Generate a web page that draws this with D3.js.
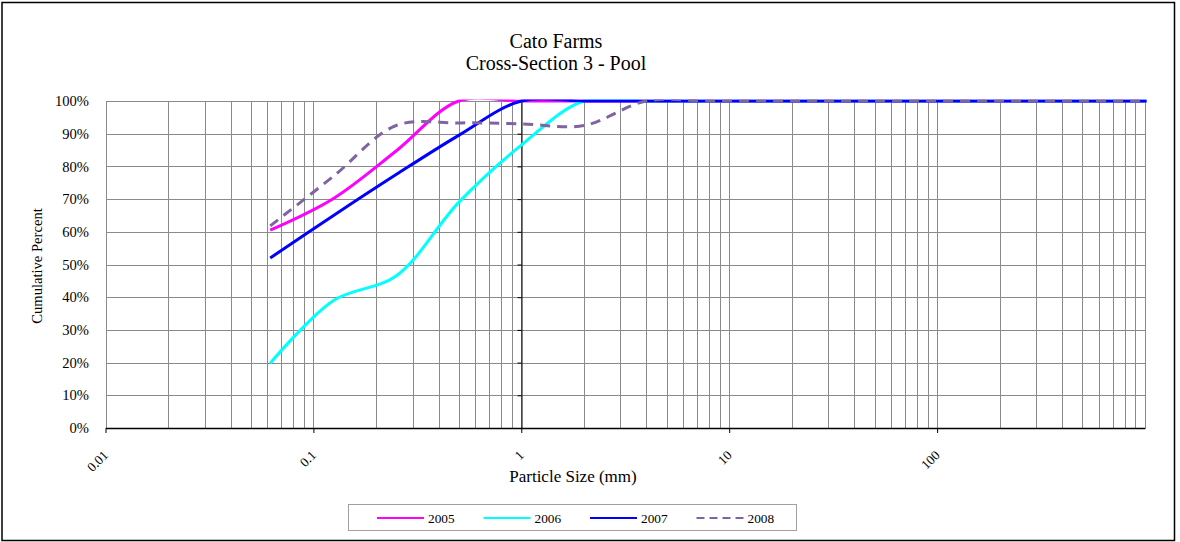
<!DOCTYPE html>
<meta charset="utf-8">
<style>
body { margin: 0; background: #fff; }
text { font-family: "Liberation Serif", "Times New Roman", serif; fill: #000; }
.grid line { stroke: #8a8a8a; stroke-width: 1px; shape-rendering: crispEdges; }
.curve { fill: none; stroke-width: 3px; stroke-linejoin: round; }
</style>
<svg width="1180" height="542"></svg>
<script src="https://d3js.org/d3.v7.min.js"></script>
<script>

// particle sizes (mm) of the sieve stack
const sizes = [0.062, 0.125, 0.25, 0.5, 1, 2, 4, 8, 16, 32, 64, 128, 256, 512, 1024];
// cumulative percent finer, per year
const pct2005 = [60.5, 70.2, 84.7, 100, 100, 100, 100, 100, 100, 100, 100, 100, 100, 100, 100];
const pct2006 = [19.8, 39, 46.5, 69, 86.5, 100, 100, 100, 100, 100, 100, 100, 100, 100, 100];
const pct2007 = [52, 65, 77.5, 89.5, 100, 100, 100, 100, 100, 100, 100, 100, 100, 100, 100];
const pct2008 = [61.8, 77, 92.5, 93.3, 93, 92.5, 100, 100, 100, 100, 100, 100, 100, 100, 100];

const years = ["2005", "2006", "2007", "2008"];
const colors = ["#ff00ff", "#00ffff", "#0000ff", "#8064a2"];
const xLabels = [0.01, 0.1, 1, 10, 100];
const yTicks = d3.range(0, 101, 10);

const LEFT = 105.5, RIGHT = 1145, TOP = 101, BOTTOM = 428;

var svg = d3.select("svg");

// outer frame
svg.append("rect")
  .attr("x", 2).attr("y", 2.5).attr("width", 1172.5).attr("height", 538)
  .attr("fill", "none").attr("stroke", "#000").attr("stroke-width", 1.5);

var x = d3.scaleLog().domain([0.01, 1000]).range([LEFT, RIGHT]);
var y = d3.scaleLinear().domain([0, 100]).range([BOTTOM, TOP]);

// title
svg.append("text").attr("x", 556).attr("y", 48).attr("text-anchor", "middle")
  .style("font-size", "20px").text("Cato Farms");
svg.append("text").attr("x", 556).attr("y", 70).attr("text-anchor", "middle")
  .style("font-size", "20px").text("Cross-Section 3 - Pool");

// grid
var grid = svg.append("g").attr("class", "grid");
grid.selectAll("line.v").data(x.ticks())
  .enter().append("line").attr("class", "v")
  .attr("x1", function(d) { return Math.round(x(d)) + 0.5; })
  .attr("x2", function(d) { return Math.round(x(d)) + 0.5; })
  .attr("y1", TOP).attr("y2", BOTTOM);
grid.selectAll("line.h").data(yTicks)
  .enter().append("line").attr("class", "h")
  .attr("x1", LEFT).attr("x2", RIGHT)
  .attr("y1", function(d) { return Math.round(y(d)) + 0.5; })
  .attr("y2", function(d) { return Math.round(y(d)) + 0.5; });

// y tick labels sit at the left edge of the plot
svg.append("g").selectAll("text").data(yTicks)
  .enter().append("text")
  .attr("x", 89).attr("y", function(d) { return y(d); })
  .attr("dy", "0.35em").attr("text-anchor", "end")
  .style("font-size", "14.6px")
  .text(function(d) { return d + "%"; });

svg.append("text")
  .attr("transform", "translate(42,266) rotate(-90)")
  .attr("text-anchor", "middle").style("font-size", "14.6px")
  .text("Cumulative Percent");

// vertical axis crosses at 1 mm
var yAxis = svg.append("g")
  .attr("transform", "translate(" + (Math.round(x(1)) + 0.5) + ",0)")
  .call(d3.axisLeft(y).tickValues(yTicks).tickSize(4).tickFormat(""));
yAxis.select(".domain").attr("stroke", "#000");

// x axis
var xAxis = svg.append("g")
  .attr("transform", "translate(0," + BOTTOM + ")")
  .call(d3.axisBottom(x).tickValues(xLabels).tickSize(5).tickSizeOuter(0).tickFormat(""));
xAxis.select(".domain").attr("stroke", "#000").attr("stroke-width", 1.5);

svg.append("g").selectAll("text").data(xLabels)
  .enter().append("text")
  .attr("transform", function(d) { return "translate(" + (x(d) + 3.5) + ",456) rotate(-45)"; })
  .attr("text-anchor", "end").style("font-size", "13.3px")
  .text(function(d) { return d; });

svg.append("text").attr("x", 573).attr("y", 482).attr("text-anchor", "middle")
  .style("font-size", "17px").text("Particle Size (mm)");

// curves
svg.append("clipPath").attr("id", "plotclip")
  .append("rect").attr("x", LEFT).attr("y", TOP - 1.5)
  .attr("width", RIGHT - LEFT + 1.5).attr("height", BOTTOM - TOP + 1.5);

var series = [pct2005, pct2006, pct2007, pct2008];
var line = d3.line()
  .x(function(d, i) { return x(sizes[i]); })
  .y(function(d) { return y(d); })
  .curve(d3.curveCatmullRom);

svg.append("g").attr("clip-path", "url(#plotclip)")
  .selectAll("path").data(series)
  .enter().append("path")
  .attr("class", "curve")
  .attr("stroke", function(d, i) { return colors[i]; })
  .attr("stroke-dasharray", function(d, i) { return i == 3 ? "10,7" : null; })
  .attr("d", line);

// legend
var legend = svg.append("g");
legend.append("rect")
  .attr("x", 348.5).attr("y", 504.5).attr("width", 448).attr("height", 26)
  .attr("fill", "#fff").attr("stroke", "#a0a0a0");
var item = legend.selectAll("g.item").data(years)
  .enter().append("g").attr("class", "item")
  .attr("transform", function(d, i) { return "translate(" + (377 + i * 106.5) + ",518)"; });
item.append("line")
  .attr("x1", 0).attr("x2", 47).attr("y1", 0).attr("y2", 0)
  .attr("stroke", function(d, i) { return colors[i]; })
  .attr("stroke-width", 2)
  .attr("stroke-dasharray", function(d, i) { return i == 3 ? "8,5" : null; });
item.append("text")
  .attr("x", 51).attr("dy", "0.35em").style("font-size", "13.3px")
  .text(function(d) { return d; });

</script>
